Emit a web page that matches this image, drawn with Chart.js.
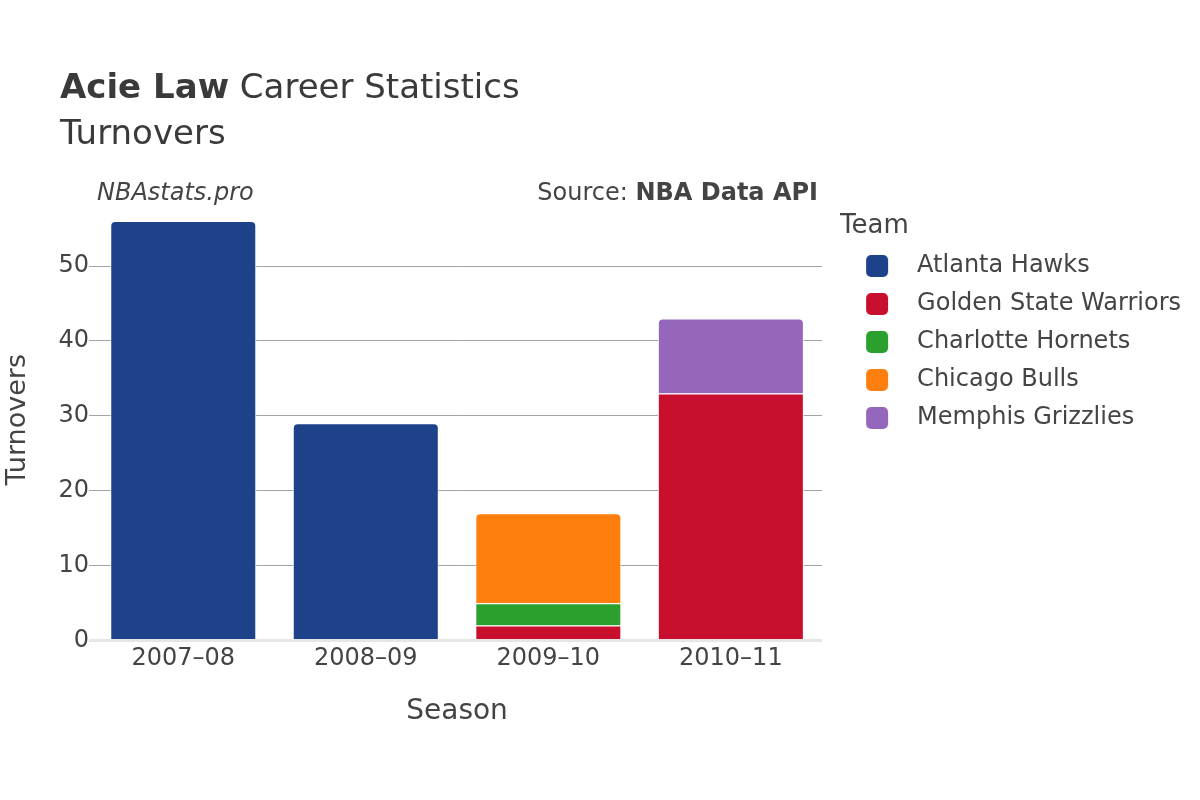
<!DOCTYPE html>
<html>
<head>
<meta charset="utf-8">
<script src="https://cdn.jsdelivr.net/npm/chart.js@4"></script>
<style>
    html, body { margin: 0; padding: 0; background: #fff; }
    #wrap { width: 1200px; height: 800px; }
</style>
</head>
<body>
<div id="wrap"><canvas id="chart" width="1200" height="800"></canvas></div>
<script>
const seasons = ['2007–08', '2008–09', '2009–10', '2010–11'];
const teams = ['Atlanta Hawks', 'Golden State Warriors', 'Charlotte Hornets', 'Chicago Bulls', 'Memphis Grizzlies'];
const teamColors = ['#1d428a', '#c8102e', '#2ca02c', '#ff7f0e', '#9467bd'];
const atlantaHawks = [56, 29, null, null];
const goldenStateWarriors = [null, null, 2, 33];
const charlotteHornets = [null, null, 3, null];
const chicagoBulls = [null, null, 12, null];
const memphisGrizzlies = [null, null, null, 10];
const yTicks = [0, 10, 20, 30, 40, 50];
const yMax = 58.95;

const FONT = "'DejaVu Sans', sans-serif";
const TEXT = '#444';

const series = [atlantaHawks, goldenStateWarriors, charlotteHornets, chicagoBulls, memphisGrizzlies];

// a bar segment gets rounded corners only when nothing is stacked on top of it
function isTopOfStack(d, i) {
    if (series[d][i] === null) return false;
    for (let k = d + 1; k < series.length; k++) {
        if (series[k][i] !== null) return false;
    }
    return true;
}

// legend swatch: rounded square with some blank room around it
function makeSwatch(color) {
    const c = document.createElement('canvas');
    c.width = 51;
    c.height = 22;
    const g = c.getContext('2d');
    g.fillStyle = color;
    g.beginPath();
    g.roundRect(12, 0, 22, 22, 5);
    g.fill();
    return c;
}
const swatches = teamColors.map(makeSwatch);

const headerText = {
    id: 'headerText',
    afterDraw(chart) {
        const ctx = chart.ctx;
        ctx.save();
        ctx.fillStyle = '#3a3a3a';
        ctx.textBaseline = 'alphabetic';
        ctx.textAlign = 'left';
        ctx.font = `bold 34px ${FONT}`;
        ctx.fillText('Acie Law', 60, 98);
        const w = ctx.measureText('Acie Law').width;
        ctx.font = `34px ${FONT}`;
        ctx.fillText(' Career Statistics', 60 + w, 98);
        ctx.fillText('Turnovers', 60, 144);

        ctx.fillStyle = TEXT;
        ctx.font = `italic 24px ${FONT}`;
        ctx.fillText('NBAstats.pro', 97, 200);

        ctx.textAlign = 'right';
        ctx.font = `bold 24px ${FONT}`;
        const bold = 'NBA Data API';
        ctx.fillText(bold, 818, 200);
        const bw = ctx.measureText(bold).width;
        ctx.font = `24px ${FONT}`;
        ctx.fillText('Source: ', 818 - bw, 200);
        ctx.restore();
    }
};

// let the legend be as wide as its longest label, and sit a little right of the plot
const legendNudge = {
    id: 'legendNudge',
    beforeLayout(chart) {
        const lg = chart.legend;
        if (lg && !lg._wideFit) {
            const fit = lg.fit;
            lg.fit = function () {
                this.maxWidth = 420;
                fit.call(this);
            };
            lg._wideFit = true;
        }
    },
    afterLayout(chart) {
        if (chart.legend) {
            chart.legend.left += 18;
            chart.legend.right += 18;
        }
    }
};

const datasets = teams.map((team, d) => ({
    label: team,
    data: series[d],
    backgroundColor: teamColors[d],
    borderColor: '#ffffff',
    borderWidth: 1,
    borderSkipped: 'start',
    borderRadius: ctx => isTopOfStack(ctx.datasetIndex, ctx.dataIndex) ? 5 : 0,
    barPercentage: 0.8,
    categoryPercentage: 1.0
}));

new Chart(document.getElementById('chart'), {
    type: 'bar',
    data: { labels: seasons, datasets: datasets },
    options: {
        responsive: false,
        animation: false,
        layout: { padding: { left: 0, top: 199, right: 27, bottom: 71 } },
        scales: {
            x: {
                stacked: true,
                grid: { display: false, drawTicks: false },
                border: { display: false },
                ticks: { color: TEXT, font: { family: FONT, size: 24 }, padding: 4, maxRotation: 0 },
                title: {
                    display: true, text: 'Season', color: TEXT,
                    font: { family: FONT, size: 28 }, padding: { top: 18, bottom: 0 }
                }
            },
            y: {
                stacked: true,
                min: 0,
                max: yMax,
                afterBuildTicks: axis => {
                    axis.ticks = yTicks.map(v => ({ value: v }));
                },
                afterFit: scale => { scale.width = 92; },
                grid: {
                    color: ctx => ctx.tick && ctx.tick.value === 0 ? '#e6e6e6' : '#a3a3a3',
                    lineWidth: ctx => ctx.tick && ctx.tick.value === 0 ? 3 : 1,
                    tickLength: 3
                },
                border: { display: false },
                ticks: { color: TEXT, font: { family: FONT, size: 24 }, padding: 0 },
                title: {
                    display: true, text: 'Turnovers', color: TEXT,
                    font: { family: FONT, size: 27 }, padding: { top: 2, bottom: 0 }
                }
            }
        },
        plugins: {
            tooltip: { enabled: false },
            legend: {
                position: 'right',
                align: 'start',
                title: {
                    display: true, text: 'Team', color: TEXT,
                    font: { family: FONT, size: 26, lineHeight: 1 },
                    padding: { top: 14, bottom: 1 },
                    position: 'start'
                },
                labels: {
                    color: TEXT,
                    font: { family: FONT, size: 24 },
                    usePointStyle: true,
                    pointStyleWidth: 51,
                    boxHeight: 22,
                    padding: 14,
                    generateLabels: chart => {
                        const items = Chart.defaults.plugins.legend.labels.generateLabels(chart);
                        items.forEach(item => { item.pointStyle = swatches[item.datasetIndex]; });
                        return items;
                    }
                }
            }
        }
    },
    plugins: [headerText, legendNudge]
});
</script>
</body>
</html>
